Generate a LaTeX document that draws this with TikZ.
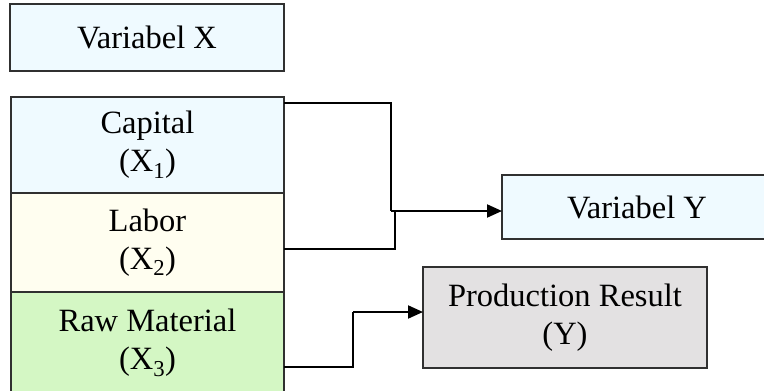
\documentclass[tikz,border=0pt]{standalone}
\usepackage{fontspec}
\setmainfont{Liberation Serif}
\usetikzlibrary{arrows.meta,calc}
\definecolor{cyanfill}{HTML}{EFFAFF}
\definecolor{yelfill}{HTML}{FFFEF0}
\definecolor{grnfill}{HTML}{D4F7C4}
\definecolor{grayfill}{HTML}{E3E1E2}
\definecolor{boxline}{HTML}{303030}
\tikzset{
  box/.style={draw=boxline, line width=2pt, inner sep=0pt, outer sep=0pt, align=center,
    font=\fontsize{32.5}{38}\selectfont},
  conn/.style={draw=black, line width=2pt},
  arr/.style={conn, -{Triangle[length=15pt,width=13pt]}},
}
\begin{document}
\begin{tikzpicture}[x=1pt,y=-1pt]
\useasboundingbox (0,0) rectangle (764,391);
\fill[white] (0,0) rectangle (764,391);
\node[box, fill=cyanfill, minimum width=274pt, minimum height=67pt] (vx) at (147,37.5) {Variabel X};
\node[box, fill=cyanfill, minimum width=273pt, minimum height=96pt] (cap) at (147.5,145) {Capital\\(X\textsubscript{1})};
\node[box, fill=yelfill, minimum width=273pt, minimum height=99pt] (lab) at (147.5,242.5) {Labor\\(X\textsubscript{2})};
\node[box, fill=grnfill, minimum width=273pt, minimum height=102pt] (raw) at (147.5,343) {Raw Material\\(X\textsubscript{3})};
\node[box, fill=cyanfill, minimum width=270pt, minimum height=64pt] (vy) at (637,207) {Variabel Y};
\node[box, fill=grayfill, minimum width=284pt, minimum height=101pt] (pr) at (565,317.5) {Production Result\\(Y)};
\coordinate (j) at (391,211);
\coordinate (jl) at (395,211);
\coordinate (jr) at (353,312);
\draw[conn] ($(cap.north east)+(0,6)$) -| (j);
\draw[conn] ($(lab.east)+(0,6.5)$) -| (jl);
\draw[arr] (j) -- (j -| vy.west);
\draw[conn] ($(raw.east)+(0,24)$) -| (jr);
\draw[arr] (jr) -- (jr -| pr.west);
\end{tikzpicture}
\end{document}
